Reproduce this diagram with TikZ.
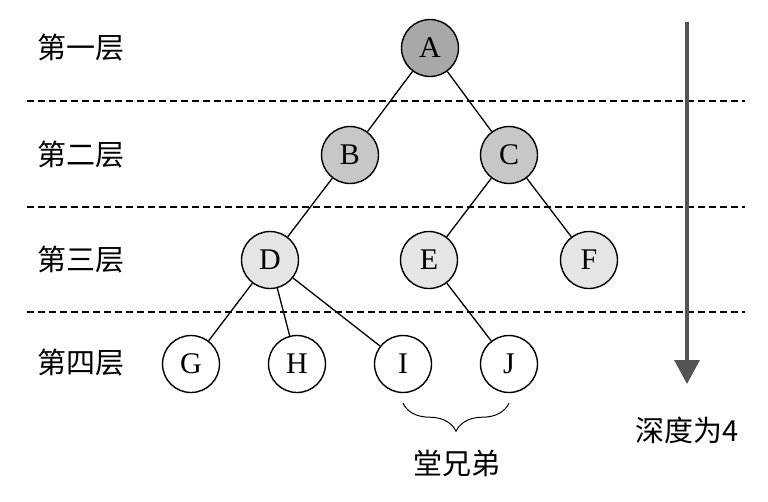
\documentclass[tikz,border=0pt]{standalone}
\usepackage{fontspec}
\setmainfont{Liberation Serif}
\newfontfamily\cjk{Noto Sans CJK SC}
\usetikzlibrary{calc,positioning,decorations.pathreplacing,arrows.meta}
\usepackage{xcolor}

\definecolor{rootgray}{gray}{0.66}
\definecolor{secondgray}{gray}{0.78}
\definecolor{thirdgray}{gray}{0.90}
\definecolor{arrowgray}{gray}{0.33}

\begin{document}
\begin{tikzpicture}[x=1pt, y=-1pt,
    treenode/.style={circle, draw, line width=1.4pt, minimum size=57pt, inner sep=0pt, font=\fontsize{30}{34}\selectfont},
    layerlabel/.style={font=\cjk\fontsize{29}{34}\selectfont},
    edge/.style={line width=1.3pt}]
    \useasboundingbox (0,0) rectangle (768,501);

    % Dashed separators between the levels
    \foreach \y in {101,207,312} {
        \draw[line width=1.5pt, dash pattern=on 7pt off 4pt] (27,\y) -- (745,\y);
    }

    % Level labels
    \foreach \y/\t [count=\i] in {48/第一层,155/第二层,260/第三层,363/第四层} {
        \node[layerlabel] (lvl\i) at (81,\y) {\t};
    }

% Draw the tree
\node[treenode, fill=rootgray] (A) at (430,48) {A};
\node[treenode, fill=secondgray] (B) at (350,155) {B};
\node[treenode, fill=secondgray] (C) at (509,155) {C};
\node[treenode, fill=thirdgray] (D) at (270,260) {D};
\node[treenode, fill=thirdgray] (E) at (429,260) {E};
\node[treenode, fill=thirdgray] (F) at (589,260) {F};
\node[treenode, fill=white] (G) at (191,364) {G};
\node[treenode, fill=white] (H) at (297,364) {H};
\node[treenode, fill=white] (I) at (403,364) {I};
\node[treenode, fill=white] (J) at (509,364) {J};

    \foreach \a/\b in {A/B,A/C,B/D,C/E,C/F,D/G,D/H,D/I,E/J} {
        \draw[edge] (\a) -- (\b);
    }

% Brace under the cousins
\coordinate (braceL) at ($(I.south)+(0,10)$);
\coordinate (braceR) at ($(J.south)+(0,10)$);
\draw[line width=1pt, decorate, decoration={brace, mirror, amplitude=28pt}] (braceL) -- (braceR);
\node[layerlabel] (cousins) at (457,463) {堂兄弟};

% Depth arrow
\coordinate (depthtop) at (687,22);
\coordinate (depthbot) at (687,384);
\draw[arrowgray, line width=3.5pt, -{Triangle[width=25pt, length=24pt]}] (depthtop) -- (depthbot);
\node[layerlabel] (depth) at (687,430) {深度为4};
\end{tikzpicture}
\end{document}
